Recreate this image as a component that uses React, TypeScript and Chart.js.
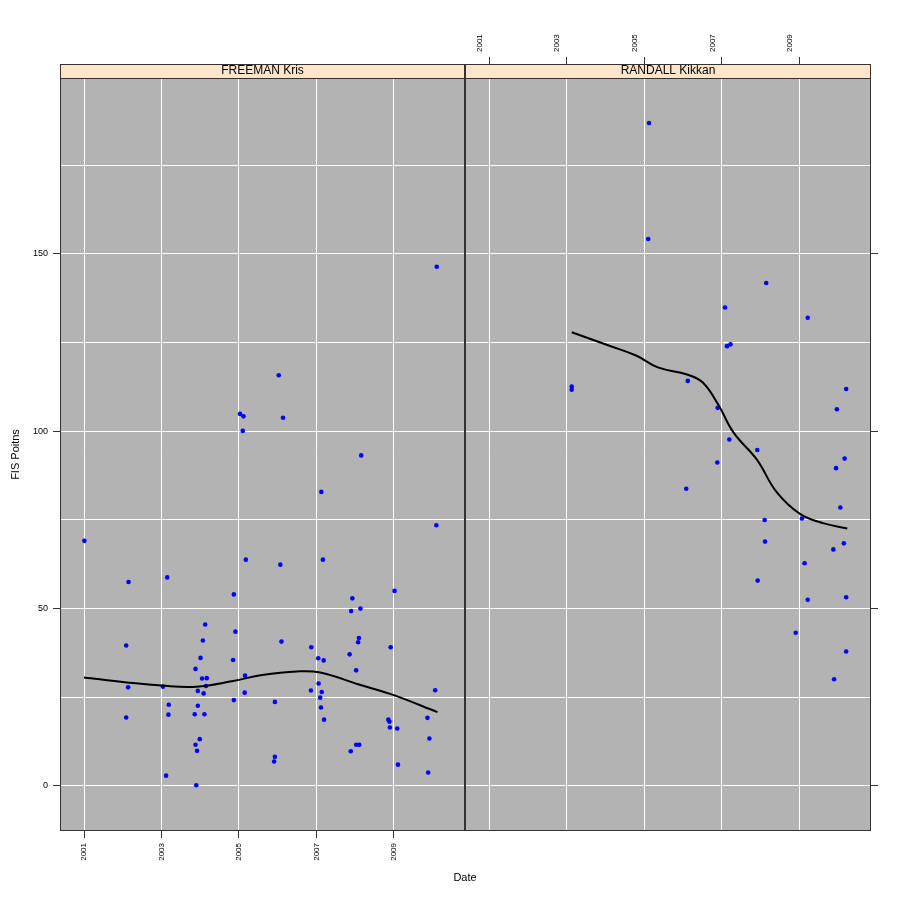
import { useEffect, useRef } from "react";
import { Chart, registerables } from "chart.js";

Chart.register(...registerables);
Chart.defaults.font.family = '"Liberation Sans", Arial, sans-serif';

// ── Data ───────────────────────────────────────────────────────────────────
const YEAR_TICKS = [2001, 2003, 2005, 2007, 2009];
const Y_GRID = [0, 25, 50, 75, 100, 125, 150, 175];
const Y_LABELED = [0, 50, 100, 150];

const FREEMAN_DATE = [
  2001.01, 2002.15, 2003.15, 2005.18, 2004.87, 2004.13, 2004.91, 2004.07, 2002.09, 2004.01,
  2004.85, 2003.88, 2004.05, 2004.17, 2005.16, 2002.14, 2003.04, 2003.94, 2004.15, 2004.09,
  2005.15, 2004.87, 2003.19, 2003.94, 2002.09, 2003.18, 2003.86, 2004.11, 2003.99, 2003.88,
  2003.92, 2003.12, 2003.9,
  2007.13, 2010.1, 2006.07, 2007.17, 2009.02, 2007.93, 2007.9, 2008.14, 2006.1, 2006.87,
  2008.1, 2008.08, 2008.92, 2007.86, 2007.05, 2007.19, 2008.03, 2007.06, 2006.86, 2007.14,
  2010.07, 2007.1, 2005.93, 2007.12, 2007.2, 2008.86, 2008.89, 2009.87, 2008.9, 2009.09,
  2009.92, 2008.03, 2008.11, 2007.89, 2005.93, 2005.91, 2009.11, 2009.89,
  2010.11, 2006.03, 2005.03, 2005.12, 2006.14, 2005.1, 2008.16,
];
const FREEMAN_FIS = [
  69.1, 57.5, 58.8, 63.8, 54.0, 45.5, 43.5, 41.0, 39.6, 36.1,
  35.5, 33.0, 30.3, 30.4, 31.1, 27.8, 28.0, 26.8, 28.2, 26.1,
  26.3, 24.2, 22.9, 22.6, 19.3, 20.1, 20.2, 20.2, 13.2, 11.6,
  9.9, 2.9, 0.2,
  82.9, 73.5, 62.4, 63.8, 55.0, 52.9, 49.3, 50.0, 40.7, 39.1,
  41.7, 40.5, 39.1, 37.1, 36.0, 35.4, 32.6, 28.9, 26.9, 26.5,
  27.0, 24.9, 23.7, 22.1, 18.7, 18.7, 18.1, 19.2, 16.5, 16.2,
  13.4, 11.6, 11.6, 9.8, 8.2, 6.9, 6.0, 3.8,
  146.4, 115.8, 104.9, 104.2, 103.8, 100.1, 93.2,
];
const FREEMAN_SMOOTH_DATE = [2001.0, 2002.1, 2003.0, 2003.9, 2004.85, 2005.6, 2006.5, 2007.1, 2008.1, 2009.0, 2010.13];
const FREEMAN_SMOOTH_FIS = [30.6, 29.2, 28.3, 28.0, 29.6, 31.3, 32.3, 32.0, 28.6, 25.6, 20.8];

const RANDALL_DATE = [
  2005.12, 2005.1, 2008.14, 2007.08, 2009.21, 2007.13, 2007.22, 2003.13, 2003.13, 2006.12,
  2006.89, 2007.19, 2007.91, 2006.88, 2010.2, 2009.96, 2010.16, 2009.94, 2006.08, 2010.05,
  2008.1, 2009.06, 2008.11, 2010.14, 2009.87, 2009.13, 2007.92, 2009.21, 2010.2, 2008.9,
  2010.2, 2009.89,
];
const RANDALL_FIS = [
  186.9, 154.2, 141.8, 134.9, 132.0, 124.0, 124.5, 112.6, 111.7, 114.2,
  106.6, 97.7, 94.7, 91.2, 111.9, 106.2, 92.3, 89.6, 83.8, 78.5,
  75.0, 75.4, 68.9, 68.4, 66.7, 62.8, 57.9, 52.5, 53.2, 43.2,
  37.9, 30.1,
];
const RANDALL_SMOOTH_DATE = [2003.13, 2004.1, 2004.8, 2005.35, 2006.1, 2006.5, 2006.9, 2007.3, 2007.9, 2008.4, 2009.0, 2009.6, 2010.23];
const RANDALL_SMOOTH_FIS = [127.9, 124.1, 121.3, 118.0, 116.0, 113.8, 107.6, 99.6, 92.0, 83.0, 76.8, 74.1, 72.6];

const X_MIN = 2000.38;
const X_MAX = 2010.84;
const Y_MIN = -12.7;
const Y_MAX = 199.6;

// ── Panel ──────────────────────────────────────────────────────────────────
function Panel({
  name,
  dates,
  fis,
  smoothDates,
  smoothFis,
  side,
}: {
  name: string;
  dates: number[];
  fis: number[];
  smoothDates: number[];
  smoothFis: number[];
  side: "left" | "right";
}) {
  const canvasRef = useRef<HTMLCanvasElement>(null);

  useEffect(() => {
    if (!canvasRef.current) return;
    const isLeft = side === "left";

    const panelPlugin = {
      id: "panelBg",
      beforeDraw(chart: Chart) {
        const { ctx, chartArea: a } = chart;
        ctx.save();
        ctx.fillStyle = "#B3B3B3";
        ctx.fillRect(a.left, a.top, a.right - a.left, a.bottom - a.top);
        ctx.fillStyle = "#FFE5CC";
        ctx.fillRect(a.left, a.top - 14, a.right - a.left, 14);
        ctx.restore();
      },
      afterDraw(chart: Chart) {
        const { ctx, chartArea: a } = chart;
        ctx.save();
        ctx.strokeStyle = "#333";
        ctx.lineWidth = 1;
        const l = Math.round(a.left) + 0.5;
        const r = Math.round(a.right) - 0.5;
        ctx.strokeRect(l, Math.round(a.top) + 0.5, r - l, Math.round(a.bottom) - Math.round(a.top) - 1);
        ctx.strokeRect(l, Math.round(a.top) - 13.5, r - l, 14);
        ctx.restore();
      },
    };

    const chart = new Chart(canvasRef.current, {
      type: "scatter",
      data: {
        datasets: [
          {
            type: "line",
            data: smoothDates.map((x, i) => ({ x, y: smoothFis[i] })),
            borderColor: "#000",
            borderWidth: 2,
            pointRadius: 0,
            tension: 0.4,
            fill: false,
            order: 0,
          },
          {
            data: dates.map((x, i) => ({ x, y: fis[i] })),
            backgroundColor: "#0000FF",
            borderWidth: 0,
            pointRadius: 2.3,
            order: 1,
          },
        ],
      },
      options: {
        animation: false,
        responsive: false,
        layout: {
          padding: {
            left: isLeft ? 0 : 465,
            right: isLeft ? 435 : 0,
            top: isLeft ? 64 : 0,
            bottom: isLeft ? 0 : 69,
          },
        },
        plugins: {
          legend: { display: false },
          tooltip: { enabled: false },
          title: {
            display: true,
            text: name,
            position: "top",
            fullSize: false,
            weight: -1,
            padding: 0,
            color: "#000",
            font: { size: 12, weight: "normal", lineHeight: 14 / 12 },
          },
        },
        scales: {
          x: {
            type: "linear",
            position: isLeft ? "bottom" : "top",
            min: X_MIN,
            max: X_MAX,
            afterBuildTicks: (s) => {
              s.ticks = YEAR_TICKS.map((v) => ({ value: v }));
            },
            afterFit: (s) => {
              s.height = isLeft ? 69 : 64;
            },
            grid: { color: "#FFFFFF", lineWidth: 1, tickLength: 7, tickColor: "#333" },
            border: { display: false },
            ticks: {
              autoSkip: false,
              maxRotation: 90,
              minRotation: 90,
              padding: 5,
              color: "#000",
              font: { size: 8 },
              callback: (v) => String(v),
            },
          },
          y: {
            type: "linear",
            position: isLeft ? "left" : "right",
            min: Y_MIN,
            max: Y_MAX,
            afterBuildTicks: (s) => {
              s.ticks = Y_GRID.map((v) => ({ value: v }));
            },
            afterFit: (s) => {
              s.width = isLeft ? 60 : 29;
            },
            grid: {
              color: "#FFFFFF",
              lineWidth: 1,
              tickLength: 7,
              tickColor: (ctx: any) => (ctx.tick && Y_LABELED.includes(ctx.tick.value) ? "#333" : "rgba(0,0,0,0)"),
            },
            border: { display: false },
            ticks: {
              display: isLeft,
              padding: 5,
              color: "#000",
              font: { size: 9 },
              callback: (v) => (Y_LABELED.includes(Number(v)) ? String(v) : ""),
            },
            title: {
              display: isLeft,
              text: "FIS Poitns",
              color: "#000",
              font: { size: 11 },
              padding: { top: 9, bottom: 0 },
            },
          },
        },
      },
      plugins: [panelPlugin],
    });

    return () => chart.destroy();
  }, [name, dates, fis, smoothDates, smoothFis, side]);

  return (
    <canvas
      ref={canvasRef}
      width={900}
      height={900}
      style={{ position: "absolute", left: 0, top: 0, width: 900, height: 900 }}
    />
  );
}

// ── Page ───────────────────────────────────────────────────────────────────
export default function App() {
  return (
    <div style={{ position: "fixed", left: 0, top: 0, width: 900, height: 900, background: "#fff", fontFamily: '"Liberation Sans", Arial, sans-serif' }}>
      <Panel
        name="FREEMAN Kris"
        dates={FREEMAN_DATE}
        fis={FREEMAN_FIS}
        smoothDates={FREEMAN_SMOOTH_DATE}
        smoothFis={FREEMAN_SMOOTH_FIS}
        side="left"
      />
      <Panel
        name="RANDALL Kikkan"
        dates={RANDALL_DATE}
        fis={RANDALL_FIS}
        smoothDates={RANDALL_SMOOTH_DATE}
        smoothFis={RANDALL_SMOOTH_FIS}
        side="right"
      />
      <div style={{ position: "absolute", left: 415, top: 870, width: 100, textAlign: "center", fontSize: 11, lineHeight: "14px", color: "#000" }}>
        Date
      </div>
    </div>
  );
}
